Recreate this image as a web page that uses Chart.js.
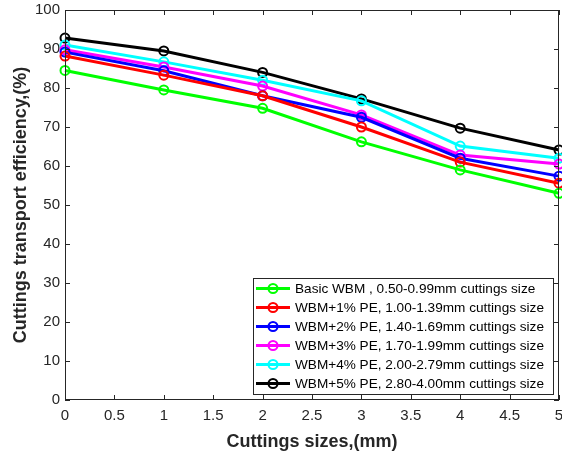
<!DOCTYPE html>
<html>
<head>
<meta charset="utf-8">
<script src="https://cdn.jsdelivr.net/npm/chart.js@4/dist/chart.umd.min.js"></script>
<style>
  html, body { margin: 0; padding: 0; background: #fff; }
  #wrap { width: 562px; height: 455px; position: relative; }
</style>
</head>
<body>
<div id="wrap"><canvas id="c" width="562" height="455"></canvas></div>
<script>
// Cuttings size positions (mm)
const sizes = [0, 1, 2, 3, 4, 5];

// Transport efficiency (%) per mud formulation
const basicWBM = [84.5, 79.5, 74.8, 66.2, 59.0, 53.0];
const pe1 = [88.2, 83.3, 78.0, 70.0, 61.0, 55.6];
const pe2 = [89.2, 84.4, 78.0, 72.5, 62.0, 57.4];
const pe3 = [89.8, 85.4, 80.5, 73.1, 62.8, 60.5];
const pe4 = [91.0, 86.7, 82.0, 76.7, 65.1, 62.0];
const pe5 = [92.8, 89.5, 84.0, 77.2, 69.7, 64.1];

const seriesLabels = [
  'Basic WBM , 0.50-0.99mm cuttings size',
  'WBM+1% PE, 1.00-1.39mm cuttings size',
  'WBM+2% PE, 1.40-1.69mm cuttings size',
  'WBM+3% PE, 1.70-1.99mm cuttings size',
  'WBM+4% PE, 2.00-2.79mm cuttings size',
  'WBM+5% PE, 2.80-4.00mm cuttings size'
];
const seriesColors = ['#00ff00', '#ff0000', '#0000ff', '#ff00ff', '#00ffff', '#000000'];
const seriesValues = [basicWBM, pe1, pe2, pe3, pe4, pe5];

const xTicks = [0, 0.5, 1, 1.5, 2, 2.5, 3, 3.5, 4, 4.5, 5];
const yTicks = [0, 10, 20, 30, 40, 50, 60, 70, 80, 90, 100];

const axisColor = '#262626';
const fontFamily = '"Liberation Sans", Arial, sans-serif';

const datasets = seriesValues.map((vals, i) => ({
  label: seriesLabels[i],
  data: sizes.map((x, k) => ({ x: x, y: vals[k] })),
  borderColor: seriesColors[i],
  backgroundColor: 'rgba(0,0,0,0)',
  pointBorderColor: seriesColors[i],
  pointBackgroundColor: 'rgba(0,0,0,0)',
  borderWidth: 3,
  pointRadius: 4.5,
  pointBorderWidth: 2,
  tension: 0,
  clip: false
}));

// Box frame with inward ticks on all four sides
const frameTicks = {
  id: 'frameTicks',
  afterDraw(chart) {
    const { ctx, chartArea: a, scales } = chart;
    const len = 5;
    ctx.save();
    ctx.strokeStyle = axisColor;
    ctx.lineWidth = 1;
    ctx.strokeRect(a.left + 0.5, a.top + 0.5, a.right - a.left - 1, a.bottom - a.top - 1);
    ctx.beginPath();
    xTicks.forEach(v => {
      const px = Math.round(scales.x.getPixelForValue(v)) + 0.5;
      ctx.moveTo(px, a.bottom); ctx.lineTo(px, a.bottom - len);
      ctx.moveTo(px, a.top); ctx.lineTo(px, a.top + len);
    });
    yTicks.forEach(v => {
      const py = Math.round(scales.y.getPixelForValue(v)) + 0.5;
      ctx.moveTo(a.left, py); ctx.lineTo(a.left + len, py);
      ctx.moveTo(a.right, py); ctx.lineTo(a.right - len, py);
    });
    ctx.stroke();
    ctx.restore();
  }
};

// Legend box drawn inside the lower right of the plot
const insideLegend = {
  id: 'insideLegend',
  afterDraw(chart) {
    const { ctx, chartArea: a } = chart;
    const boxW = 300, rowH = 19, pad = 1;
    const boxH = rowH * datasets.length + 2 * pad;
    const x0 = a.right - boxW - 6;
    const y0 = a.bottom - boxH - 6;
    ctx.save();
    ctx.fillStyle = '#ffffff';
    ctx.fillRect(x0, y0, boxW, boxH);
    ctx.strokeStyle = axisColor;
    ctx.lineWidth = 1;
    ctx.strokeRect(x0 + 0.5, y0 + 0.5, boxW, boxH);
    ctx.font = '13.6px ' + fontFamily;
    ctx.textBaseline = 'middle';
    chart.data.datasets.forEach((ds, i) => {
      const cy = y0 + pad + rowH * (i + 0.5);
      ctx.strokeStyle = ds.borderColor;
      ctx.lineWidth = 3;
      ctx.beginPath();
      ctx.moveTo(x0 + 3, cy); ctx.lineTo(x0 + 37, cy);
      ctx.stroke();
      ctx.lineWidth = 2;
      ctx.beginPath();
      ctx.arc(x0 + 20, cy, 4.5, 0, Math.PI * 2);
      ctx.stroke();
      ctx.fillStyle = '#000000';
      ctx.fillText(ds.label, x0 + 42, cy + 0.5);
    });
    ctx.restore();
  }
};

new Chart(document.getElementById('c'), {
  type: 'line',
  data: { datasets: datasets },
  options: {
    responsive: false,
    animation: false,
    layout: { autoPadding: false, padding: { top: 10, right: 3, left: 0, bottom: 0 } },
    plugins: {
      legend: { display: false },
      tooltip: { enabled: false }
    },
    scales: {
      x: {
        type: 'linear',
        min: 0, max: 5,
        afterBuildTicks(scale) { scale.ticks = xTicks.map(v => ({ value: v })); },
        afterFit(scale) { scale.height = 55; scale.paddingLeft = 0; scale.paddingRight = 0; },
        grid: { display: false, drawTicks: false },
        border: { display: false },
        ticks: {
          color: axisColor,
          font: { family: fontFamily, size: 15 },
          padding: 7,
          maxRotation: 0,
          callback: v => String(v)
        },
        title: {
          display: true,
          text: 'Cuttings sizes,(mm)',
          color: axisColor,
          font: { family: fontFamily, size: 18, weight: 'bold' },
          padding: { top: 2, bottom: 2 }
        }
      },
      y: {
        type: 'linear',
        min: 0, max: 100,
        afterBuildTicks(scale) { scale.ticks = yTicks.map(v => ({ value: v })); },
        afterFit(scale) { scale.width = 65; scale.paddingTop = 0; scale.paddingBottom = 0; },
        grid: { display: false, drawTicks: false },
        border: { display: false },
        ticks: {
          color: axisColor,
          font: { family: fontFamily, size: 15 },
          padding: 5,
          callback: v => String(v)
        },
        title: {
          display: true,
          text: 'Cuttings transport efficiency,(%)',
          color: axisColor,
          font: { family: fontFamily, size: 18, weight: 'bold' },
          padding: { top: 10, bottom: 0 }
        }
      }
    }
  },
  plugins: [frameTicks, insideLegend]
});
</script>
</body>
</html>
